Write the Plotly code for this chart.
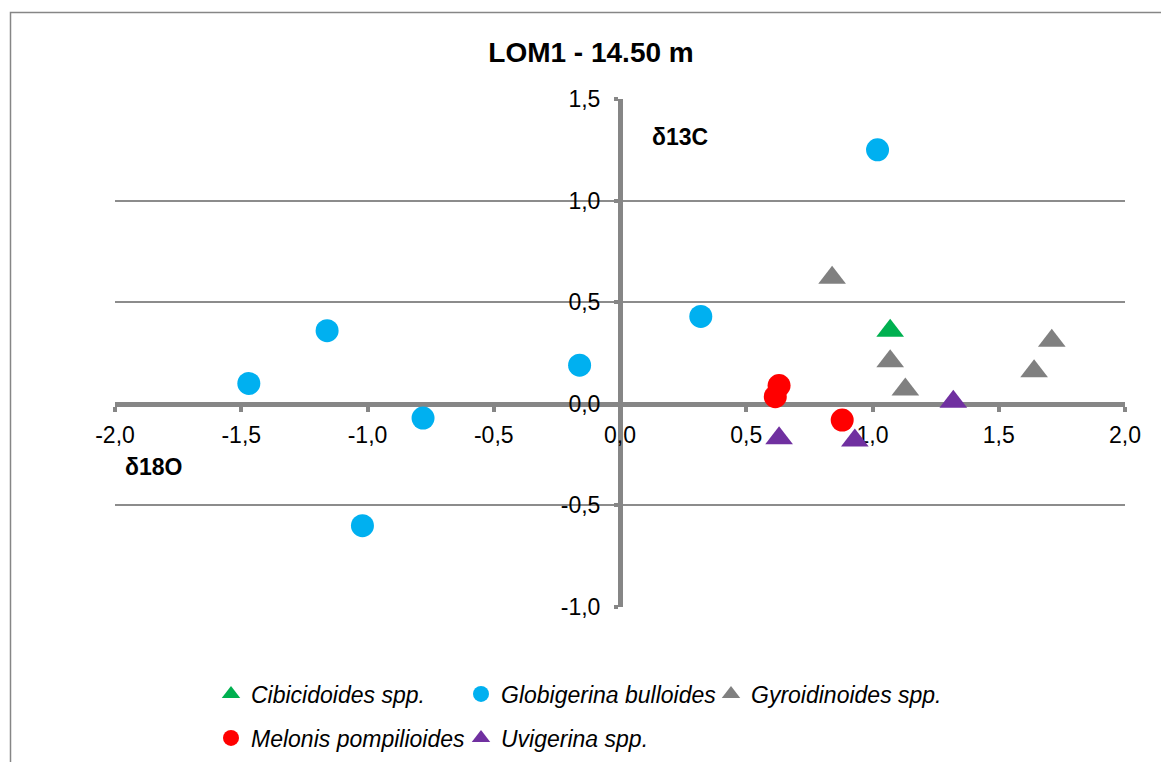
import plotly.graph_objects as go

# Isotope data per taxon: x = δ18O, y = δ13C
cib_d18o = [1.07]
cib_d13c = [0.36]

glob_d18o = [-1.47, -1.16, -0.78, -1.02, -0.16, 0.32, 1.02]
glob_d13c = [0.10, 0.36, -0.07, -0.60, 0.19, 0.43, 1.25]

gyro_d18o = [0.84, 1.07, 1.13, 1.71, 1.64]
gyro_d13c = [0.62, 0.21, 0.07, 0.31, 0.16]

mel_d18o = [0.63, 0.615, 0.88]
mel_d13c = [0.09, 0.035, -0.08]

uvi_d18o = [1.32, 0.63, 0.93]
uvi_d13c = [0.01, -0.17, -0.18]

x_ticks = [-2.0, -1.5, -1.0, -0.5, 0.0, 0.5, 1.0, 1.5, 2.0]
x_tick_text = ["-2,0", "-1,5", "-1,0", "-0,5", "0,0", "0,5", "1,0", "1,5", "2,0"]
y_ticks = [-1.0, -0.5, 0.0, 0.5, 1.0, 1.5]
y_tick_text = ["-1,0", "-0,5", "0,0", "0,5", "1,0", "1,5"]

FONT = "Arial, Liberation Sans, sans-serif"
AXIS_GREY = "#868686"
GRID_GREY = "#8c8c8c"

W, H = 1161, 762
L, R, T, B = 115, 36, 99, 155
plot_w = W - L - R
plot_h = H - T - B


def px_x(px):
    return (px - L) / plot_w


def px_y(py):
    return (H - B - py) / plot_h


fig = go.Figure()

series = [
    ("Cibicidoides spp.", cib_d18o, cib_d13c, "triangle-up", "#00B050", "legend"),
    ("Globigerina bulloides", glob_d18o, glob_d13c, "circle", "#00B0F0", "legend"),
    ("Gyroidinoides spp.", gyro_d18o, gyro_d13c, "triangle-up", "#808080", "legend"),
    ("Melonis pompilioides", mel_d18o, mel_d13c, "circle", "#FF0000", "legend2"),
    ("Uvigerina spp.", uvi_d18o, uvi_d13c, "triangle-up", "#7030A0", "legend2"),
]

for name, xs, ys, sym, col, leg in series:
    fig.add_trace(go.Scatter(
        x=xs, y=ys, mode="markers", name=name, legend=leg,
        marker=dict(symbol=sym, color=col,
                    size=23 if sym == "circle" else 24,
                    line=dict(width=0)),
        cliponaxis=False,
    ))

legend_common = dict(
    orientation="h", x=px_x(211), xanchor="left", yanchor="middle",
    entrywidth=205, entrywidthmode="pixels",
    font=dict(family=FONT, size=23, color="black", style="italic"),
    bgcolor="rgba(0,0,0,0)", borderwidth=0,
)

fig.update_layout(
    width=W, height=H,
    margin=dict(l=L, r=R, t=T, b=B, pad=0, autoexpand=False),
    paper_bgcolor="white", plot_bgcolor="white",
    font=dict(family=FONT, size=23, color="black"),
    title=dict(text="<b>LOM1 - 14.50 m</b>", x=591 / W, xanchor="center",
               y=1 - 52 / H, yanchor="middle",
               font=dict(family=FONT, size=28, color="black")),
    xaxis=dict(range=[-2, 2], tickvals=x_ticks, ticktext=x_tick_text,
               showgrid=False, zeroline=False,
               anchor="free", position=0.4,
               showline=True, linecolor=AXIS_GREY, linewidth=5,
               ticks="outside", ticklen=5, tickwidth=4, tickcolor=AXIS_GREY,
               ticklabelstandoff=4,
               tickfont=dict(size=23, family=FONT, color="black"),
               layer="below traces"),
    yaxis=dict(range=[-1, 1.5], tickvals=y_ticks, ticktext=y_tick_text,
               showgrid=True, gridcolor=GRID_GREY, gridwidth=1.5,
               zeroline=False,
               anchor="free", position=0.5,
               showline=True, linecolor=AXIS_GREY, linewidth=5,
               ticks="outside", ticklen=4, tickwidth=4, tickcolor=AXIS_GREY,
               ticklabelstandoff=9,
               tickfont=dict(size=23, family=FONT, color="black"),
               layer="below traces"),
    legend=dict(legend_common, y=px_y(694)),
    legend2=dict(legend_common, y=px_y(738)),
    showlegend=True,
)

# Axis names placed beside the crossing axes
fig.add_annotation(text="<b>δ13C</b>", x=px_x(680), y=px_y(137),
                   xref="paper", yref="paper", xanchor="center", yanchor="middle",
                   showarrow=False,
                   font=dict(family=FONT, size=23, color="black"))
fig.add_annotation(text="<b>δ18O</b>", x=px_x(153), y=px_y(467),
                   xref="paper", yref="paper", xanchor="center", yanchor="middle",
                   showarrow=False,
                   font=dict(family=FONT, size=23, color="black"))

# Chart-area frame
fig.add_shape(type="rect", xref="paper", yref="paper",
              x0=px_x(10.5), x1=px_x(1175), y0=px_y(780), y1=px_y(12.5),
              line=dict(color=AXIS_GREY, width=1.5), fillcolor="rgba(0,0,0,0)",
              layer="below")

fig.write_html("out.html")
